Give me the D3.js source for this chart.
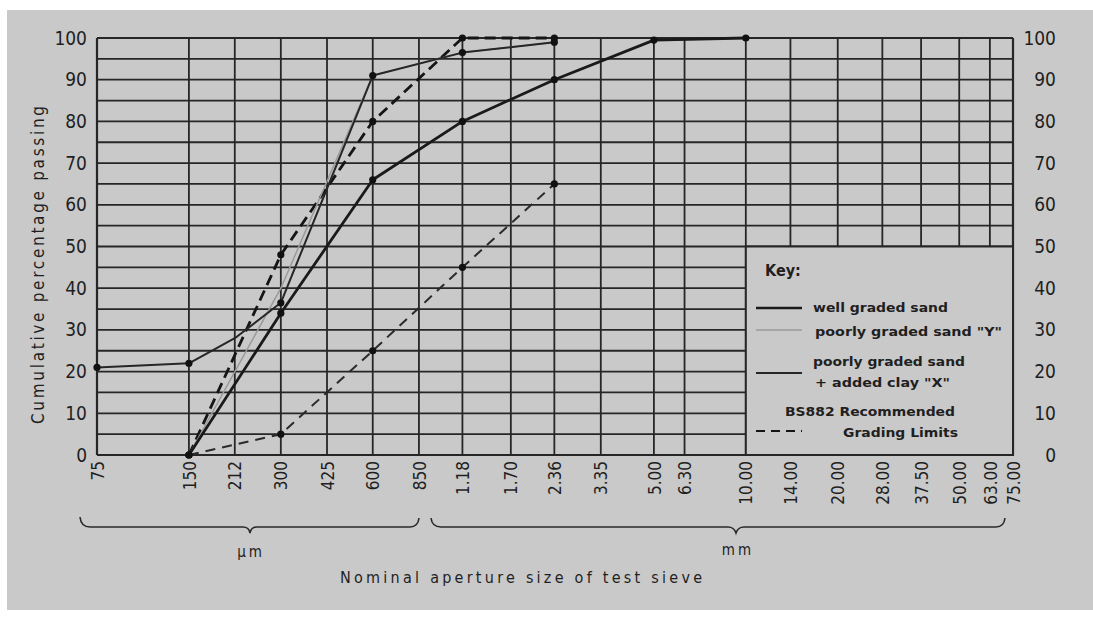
<!DOCTYPE html>
<html><head><meta charset="utf-8">
<script src="https://cdn.jsdelivr.net/npm/d3@7"></script>
<style>html,body{margin:0;padding:0;background:#fff;} svg{display:block}</style>
</head><body><div id="chart"></div>
<script>
// ---- data ----
const sieveLabels = ["75","150","212","300","425","600","850","1.18","1.70","2.36","3.35","5.00","6.30","10.00","14.00","20.00","28.00","37.50","50.00","63.00","75.00"];
const sieveSizes = [0.075,0.15,0.212,0.3,0.425,0.6,0.85,1.18,1.7,2.36,3.35,5,6.3,10,14,20,28,37.5,50,63,75]; // mm
const percentTicks = [0,10,20,30,40,50,60,70,80,90,100];
const gridPercents = [0,5,10,15,20,25,30,35,40,45,50,55,60,65,70,75,80,85,90,95,100];

const wellGradedSizes = [0.15,0.3,0.6,1.18,2.36,5,10];
const wellGradedPassing = [0,34,66,80,90,99.5,100];
const sandYSizes = [0.15,0.3,0.6,1.18,2.36];
const sandYPassing = [0,40,91,96.5,99];
const sandXSizes = [0.075,0.15,0.212,0.3,0.6,1.18,2.36];
const sandXPassing = [21,22,28,36.5,91,96.5,99];
const upperLimitSizes = [0.15,0.3,0.6,1.18,2.36];
const upperLimitPassing = [0,48,80,100,100];
const lowerLimitSizes = [0.15,0.3,0.6,1.18,2.36];
const lowerLimitPassing = [0,5,25,45,65];

// ---- layout ----
const W = 1093, H = 619;
const pL = 97, pR = 1013, pT = 38, pB = 455;
const ink = "#1f1f1f";
const font = "'DejaVu Sans Condensed','DejaVu Sans','Liberation Sans',sans-serif";

const svg = d3.select("#chart").append("svg").attr("width", W).attr("height", H);
svg.append("rect").attr("x",0).attr("y",0).attr("width",W).attr("height",H).attr("fill","#ffffff");
svg.append("rect").attr("x",7).attr("y",10).attr("width",W-7).attr("height",600).attr("fill","#c9c9c9");

const x = d3.scaleLog().domain([0.075, 75]).range([pL, pR]);
const y = d3.scaleLinear().domain([0, 100]).range([pB, pT]);

// grid
const grid = svg.append("g").attr("stroke", "#262626").attr("stroke-width", 1.8);
grid.selectAll("line.h").data(gridPercents).join("line").attr("class","h")
  .attr("x1", pL).attr("x2", pR).attr("y1", d => y(d)).attr("y2", d => y(d));
grid.selectAll("line.v").data(sieveSizes).join("line").attr("class","v")
  .attr("x1", d => x(d)).attr("x2", d => x(d)).attr("y1", pT).attr("y2", pB)
  .attr("stroke-width", (d,i) => (i===0||i===sieveSizes.length-1) ? 2.2 : 1.8);

// legend panel
const lx0 = x(10), ly0 = y(50);
svg.append("rect").attr("x", lx0).attr("y", ly0).attr("width", pR - lx0).attr("height", pB - ly0)
  .attr("fill", "#c9c9c9").attr("stroke", "#262626").attr("stroke-width", 2);

// axes
const yl = svg.append("g").attr("transform", `translate(${pL},0)`)
  .call(d3.axisLeft(y).tickValues(percentTicks).tickSize(0).tickPadding(10));
yl.select(".domain").remove();
yl.selectAll("text").attr("font-family", font).attr("font-size", 19).attr("fill", ink).attr("font-stretch","condensed");

const yr = svg.append("g").attr("transform", `translate(${pR},0)`)
  .call(d3.axisRight(y).tickValues(percentTicks).tickSize(0).tickPadding(43));
yr.select(".domain").remove();
yr.selectAll("text").attr("text-anchor","end").attr("font-family", font).attr("font-size", 19).attr("fill", ink).attr("font-stretch","condensed");

const xa = svg.append("g").attr("transform", `translate(0,${pB})`)
  .call(d3.axisBottom(x).tickValues(sieveSizes).tickFormat((d,i) => sieveLabels[i]).tickSize(0));
xa.select(".domain").remove();
xa.selectAll("text").attr("transform","rotate(-90)").attr("text-anchor","end")
  .attr("x", -6).attr("y", 0).attr("dy","0.36em")
  .attr("font-family", font).attr("font-size", 17).attr("fill", ink).attr("font-stretch","condensed");

// series
const line = d3.line().x(d => x(d[0])).y(d => y(d[1]));
const series = [
  {s: upperLimitSizes, p: upperLimitPassing, color: "#151515", w: 2.8, dash: "11,6", dots: true},
  {s: lowerLimitSizes, p: lowerLimitPassing, color: "#2a2a2a", w: 2.0, dash: "10,7", dots: true},
  {s: sandYSizes, p: sandYPassing, color: "#9a9a9a", w: 1.5, dash: null, dots: false},
  {s: wellGradedSizes, p: wellGradedPassing, color: "#1a1a1a", w: 2.8, dash: null, dots: true},
  {s: sandXSizes, p: sandXPassing, color: "#262626", w: 2.0, dash: null, dots: true}
];
series.forEach(sr => {
  const pts = d3.zip(sr.s, sr.p);
  svg.append("path").datum(pts).attr("fill","none").attr("stroke", sr.color)
    .attr("stroke-width", sr.w).attr("stroke-dasharray", sr.dash).attr("stroke-linejoin","round")
    .attr("d", line);
  if (sr.dots) {
    svg.append("g").selectAll("circle").data(pts.filter(d => d[0] !== 0.212)).join("circle")
      .attr("cx", d => x(d[0])).attr("cy", d => y(d[1])).attr("r", 3.6).attr("fill", "#111");
  }
});

// legend content
const lg = svg.append("g").attr("font-family", font).attr("fill", ink);
lg.append("text").attr("x", 765).attr("y", 276).attr("font-size", 16).attr("font-weight","bold").text("Key:");
const legendRows = [
  {y: 308, color: "#1a1a1a", w: 2.6, dash: null},
  {y: 330, color: "#9a9a9a", w: 1.5, dash: null},
  {y: 373, color: "#262626", w: 2.2, dash: null},
  {y: 431, color: "#151515", w: 2.2, dash: "9,6"}
];
lg.selectAll("line").data(legendRows).join("line")
  .attr("x1", 756).attr("x2", 802).attr("y1", d => d.y).attr("y2", d => d.y)
  .attr("stroke", d => d.color).attr("stroke-width", d => d.w).attr("stroke-dasharray", d => d.dash);
const legendTexts = [
  {t: "well graded sand", x: 813, y: 312, len: 135},
  {t: "poorly graded sand \"Y\"", x: 815, y: 336, len: 187},
  {t: "poorly graded sand", x: 813, y: 366, len: 152},
  {t: "+ added clay \"X\"", x: 815, y: 387, len: 135},
  {t: "BS882 Recommended", x: 785, y: 416, len: 170},
  {t: "Grading Limits", x: 843, y: 437, len: 115}
];
lg.selectAll("text.lt").data(legendTexts).join("text").attr("class","lt")
  .attr("x", d => d.x).attr("y", d => d.y).attr("font-size", 13).attr("font-weight", "bold")
  .attr("textLength", d => d.len).attr("lengthAdjust", "spacingAndGlyphs").text(d => d.t);

// axis titles
svg.append("text").attr("transform", "translate(44,265) rotate(-90)").attr("text-anchor","middle")
  .attr("font-family", font).attr("font-size", 17).attr("fill", ink)
  .attr("textLength", 318).attr("lengthAdjust","spacing").text("Cumulative percentage passing");
svg.append("text").attr("x", 521).attr("y", 583).attr("text-anchor","middle")
  .attr("font-family", font).attr("font-size", 16).attr("fill", ink)
  .attr("textLength", 362).attr("lengthAdjust","spacing").text("Nominal aperture size of test sieve");

// braces
const br = svg.append("g").attr("fill","none").attr("stroke","#2a2a2a").attr("stroke-width",1.6);
br.append("path").attr("d","M80,517 Q81,527 90,527 L243,527 Q249,527 250,533 Q251,527 257,527 L410,527 Q418,527 419,518");
br.append("path").attr("d","M431,518 Q432,527 441,527 L728,527 Q734,527 736,533 Q738,527 744,527 L996,527 Q1004,527 1005,518");
svg.append("text").attr("x", 251).attr("y", 557).attr("text-anchor","middle").attr("font-family", font)
  .attr("font-size", 15).attr("fill", ink).attr("letter-spacing", 3).text("μm");
svg.append("text").attr("x", 738).attr("y", 555).attr("text-anchor","middle").attr("font-family", font)
  .attr("font-size", 15).attr("fill", ink).attr("letter-spacing", 3).text("mm");
</script></body></html>
